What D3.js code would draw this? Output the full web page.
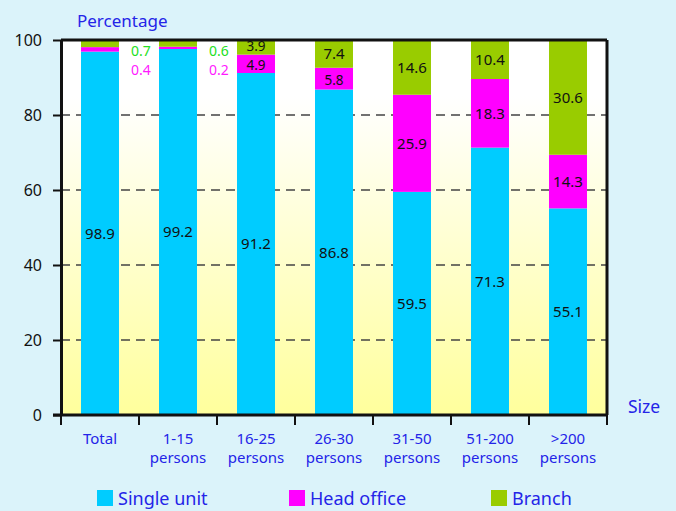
<!DOCTYPE html>
<html>
<head>
<meta charset="utf-8">
<script src="https://cdn.jsdelivr.net/npm/d3@7"></script>
<style>
  body { margin: 0; background: #dbf3fa; }
  svg { display: block; font-family: "Noto Sans", "DejaVu Sans", sans-serif; }
</style>
</head>
<body>
<div id="chart"></div>
<script>
// categories and values (labels as printed on the chart)
const categories = ["Total", "1-15|persons", "16-25|persons", "26-30|persons", "31-50|persons", "51-200|persons", ">200|persons"];
const singleUnit = [98.9, 99.2, 91.2, 86.8, 59.5, 71.3, 55.1];
const headOffice = [0.4, 0.2, 4.9, 5.8, 25.9, 18.3, 14.3];
const branch = [0.7, 0.6, 3.9, 7.4, 14.6, 10.4, 30.6];
// segment heights as drawn (small shares are drawn a bit larger in the source)
const singleUnitBar = [96.9, 97.6, 91.2, 86.8, 59.5, 71.3, 55.1];
const headOfficeBar = [1.2, 0.6, 4.9, 5.8, 25.9, 18.3, 14.3];
const branchBar = [1.9, 1.8, 3.9, 7.4, 14.6, 10.4, 30.6];
const yTicks = [0, 20, 40, 60, 80, 100];
const seriesNames = ["Single unit", "Head office", "Branch"];

const W = 676, H = 511;
const plotL = 61, plotR = 607, plotT = 40, plotB = 415;
const blue = "#2424e8";
const font = "Noto Sans, DejaVu Sans, sans-serif";
const colors = ["#00ccff", "#ff00ff", "#99cc00"];

const svg = d3.select("#chart").append("svg")
  .attr("width", W)
  .attr("height", H);

const defs = svg.append("defs");
const grad = defs.append("linearGradient")
  .attr("id", "bg").attr("x1", 0).attr("y1", 0).attr("x2", 0).attr("y2", 1);
grad.append("stop").attr("offset", "0%").attr("stop-color", "#ffffff");
grad.append("stop").attr("offset", "15%").attr("stop-color", "#ffffff");
grad.append("stop").attr("offset", "100%").attr("stop-color", "#ffff9c");

const x = d3.scaleBand().domain(categories).range([plotL, plotR]).paddingInner(0.513).paddingOuter(0.2565);
const xSlot = d3.scaleBand().domain(categories).range([plotL, plotR]).padding(0);
const y = d3.scaleLinear().domain([0, 100]).range([plotB, plotT]);

// plot background
svg.append("rect")
  .attr("x", plotL).attr("y", plotT)
  .attr("width", plotR - plotL).attr("height", plotB - plotT)
  .attr("fill", "url(#bg)");

// dashed grid
svg.selectAll("line.grid")
  .data(yTicks.filter(d => d > 0 && d < 100))
  .enter().append("line")
  .attr("class", "grid")
  .attr("x1", plotL).attr("x2", plotR)
  .attr("y1", d => y(d)).attr("y2", d => y(d))
  .attr("stroke", "#444")
  .attr("stroke-width", 1.3)
  .attr("stroke-dasharray", "9,6");

// stacked bars
const rows = categories.map((c, i) => ({
  cat: c, single: singleUnitBar[i], head: headOfficeBar[i], branch: branchBar[i]
}));
const stack = d3.stack().keys(["single", "head", "branch"])(rows);

svg.selectAll("g.series")
  .data(stack)
  .enter().append("g")
  .attr("fill", (d, i) => colors[i])
  .selectAll("rect")
  .data(d => d)
  .enter().append("rect")
  .attr("x", d => x(d.data.cat))
  .attr("width", x.bandwidth())
  .attr("y", d => y(d[1]))
  .attr("height", d => y(d[0]) - y(d[1]));

// value labels
const labelVals = [singleUnit, headOffice, branch];
stack.forEach((s, k) => {
  s.forEach((d, i) => {
    const small = i < 2 && k > 0;
    if (small) {
      // tiny shares labelled beside the bar
      svg.append("text")
        .attr("x", xSlot(d.data.cat) + xSlot.bandwidth() + 2)
        .attr("y", k === 2 ? 51 : 70)
        .attr("dy", "0.36em")
        .attr("text-anchor", "middle")
        .attr("font-size", 14)
        .attr("fill", k === 2 ? "#22e022" : "#ff1aff")
        .text(labelVals[k][i].toFixed(1));
    } else {
      const thin = d[1] - d[0] < 6;
      // nudge labels of thin neighbouring segments apart
      const nudge = thin ? (k === 2 ? -1.5 : 1.5) : 0;
      svg.append("text")
        .attr("x", x(d.data.cat) + x.bandwidth() / 2)
        .attr("y", (y(d[0]) + y(d[1])) / 2 + nudge)
        .attr("dy", "0.36em")
        .attr("text-anchor", "middle")
        .attr("font-size", thin ? 13.5 : 15)
        .attr("fill", "#111")
        .text(labelVals[k][i].toFixed(1));
    }
  });
});

// frame top / right
svg.append("line").attr("x1", plotL).attr("x2", plotR).attr("y1", plotT).attr("y2", plotT)
  .attr("stroke", "#111").attr("stroke-width", 3);
svg.append("line").attr("x1", plotR).attr("x2", plotR).attr("y1", plotT).attr("y2", plotB)
  .attr("stroke", "#111").attr("stroke-width", 3);

// y axis
const yAxis = svg.append("g")
  .attr("transform", `translate(${plotL},0)`)
  .call(d3.axisLeft(y).tickValues(yTicks).tickSize(8).tickPadding(11).tickSizeOuter(0));
yAxis.select(".domain").attr("stroke", "#111").attr("stroke-width", 3);
yAxis.selectAll(".tick line").attr("stroke", "#111").attr("stroke-width", 2);
yAxis.selectAll(".tick text").attr("font-size", 16).attr("fill", "#111")
  .attr("font-family", font);

// x axis: labels at centres, tick marks at slot boundaries
const xAxis = svg.append("g")
  .attr("transform", `translate(0,${plotB})`)
  .call(d3.axisBottom(x).tickSize(0).tickSizeOuter(0).tickPadding(0));
xAxis.select(".domain").attr("stroke", "#111").attr("stroke-width", 3)
  .attr("d", `M${plotL - 8},0H${plotR}`);
xAxis.selectAll(".tick text").each(function(d) {
  const t = d3.select(this).text(null)
    .attr("y", 0).attr("dy", null)
    .attr("font-size", 15).attr("fill", blue)
    .attr("font-family", font);
  d.split("|").forEach((part, j) => {
    t.append("tspan").attr("x", 0).attr("y", 29 + j * 19).text(part);
  });
});
const bounds = categories.map(c => xSlot(c)).concat([plotR]);
xAxis.selectAll("line.bound")
  .data(bounds)
  .enter().append("line")
  .attr("x1", d => d).attr("x2", d => d)
  .attr("y1", 0).attr("y2", 10)
  .attr("stroke", "#111").attr("stroke-width", 2);

// axis titles
svg.append("text").attr("x", 77).attr("y", 27)
  .attr("font-size", 17).attr("fill", blue).text("Percentage");
svg.append("text").attr("x", 628).attr("y", 413)
  .attr("font-size", 17.5).attr("fill", blue).text("Size");

// legend
const legendX = [97, 289, 491];
const legend = svg.selectAll("g.legend")
  .data(seriesNames)
  .enter().append("g")
  .attr("transform", (d, i) => `translate(${legendX[i]},490)`);
legend.append("rect").attr("width", 16).attr("height", 16)
  .attr("fill", (d, i) => colors[i]);
legend.append("text").attr("x", 21).attr("y", 15)
  .attr("font-size", 18).attr("fill", blue).text(d => d);
</script>
</body>
</html>
